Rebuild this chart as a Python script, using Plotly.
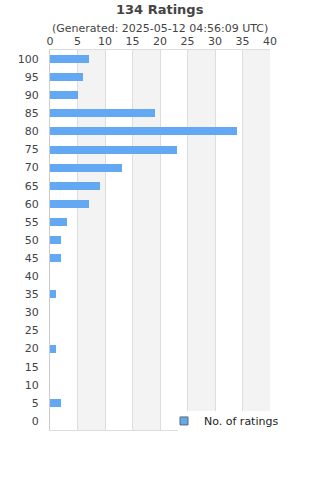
import plotly.graph_objects as go

ratings = [100, 95, 90, 85, 80, 75, 70, 65, 60, 55, 50, 45, 40, 35, 30, 25, 20, 15, 10, 5, 0]
counts = [7, 6, 5, 19, 34, 23, 13, 9, 7, 3, 2, 2, 0, 1, 0, 0, 1, 0, 0, 2, 0]
x_ticks = [0, 5, 10, 15, 20, 25, 30, 35, 40]
title = "134 Ratings"
subtitle = "(Generated: 2025-05-12 04:56:09 UTC)"
series_name = "No. of ratings"

FONT = "DejaVu Sans"
TXT = "#444444"
BAR = "#62a8f2"
PLOT_H = 380.0
PLOT_W = 220.0

fig = go.Figure()
fig.add_trace(go.Bar(
    x=counts, y=ratings, orientation="h", name=series_name,
    marker=dict(color=BAR, line=dict(width=0)), width=2.2,
    showlegend=False,
))
# legend-only entry with a small square swatch
fig.add_trace(go.Scatter(
    x=[None], y=[None], mode="markers", name=series_name,
    marker=dict(symbol="square", size=8, color=BAR, line=dict(width=1, color="#666666")),
    showlegend=True,
))

shapes = []
for i in range(len(x_ticks) - 1):
    if i % 2 == 1:
        shapes.append(dict(type="rect", xref="x", yref="paper", x0=x_ticks[i], x1=x_ticks[i + 1],
                           y0=0, y1=1, fillcolor="#f3f3f3", line=dict(width=0), layer="below"))
# white legend box covering the bottom-right corner of the plot
shapes.append(dict(type="rect", xref="paper", yref="paper",
                   x0=(178 - 50) / PLOT_W, x1=1.02, y0=-0.02, y1=(430 - 411) / PLOT_H,
                   fillcolor="white", line=dict(width=0), layer="above"))

fig.update_layout(
    width=320, height=480,
    margin=dict(l=50, r=50, t=50, b=50),
    paper_bgcolor="white", plot_bgcolor="white",
    font=dict(family=FONT, color=TXT, size=11),
    shapes=shapes,
    bargap=0,
    xaxis=dict(side="top", range=[0, 40], tickvals=x_ticks, showgrid=True, gridcolor="#dddddd",
               gridwidth=1, zeroline=False, showline=True, linecolor="#dddddd", mirror=True,
               ticks="", tickfont=dict(size=11, color=TXT), fixedrange=True),
    yaxis=dict(range=[-2.5, 102.5], tickvals=ratings, showgrid=False, zeroline=False,
               showline=True, linecolor="#cccccc", ticks="", ticklabelstandoff=8,
               tickfont=dict(size=11, color=TXT)),
    legend=dict(x=(164 - 50) / PLOT_W, y=0.062, xanchor="left", yanchor="top",
                bgcolor="rgba(0,0,0,0)", font=dict(size=11, color="#222222"), itemwidth=30),
    annotations=[
        dict(text="<b>" + title + "</b>", x=0.5, y=(430 - 10) / PLOT_H, xref="paper", yref="paper",
             xanchor="center", yanchor="middle", showarrow=False, font=dict(size=13, color=TXT)),
        dict(text=subtitle, x=0.5, y=(430 - 29) / PLOT_H, xref="paper", yref="paper",
             xanchor="center", yanchor="middle", showarrow=False, font=dict(size=11, color=TXT)),
    ],
)

fig.write_html("out.html")
